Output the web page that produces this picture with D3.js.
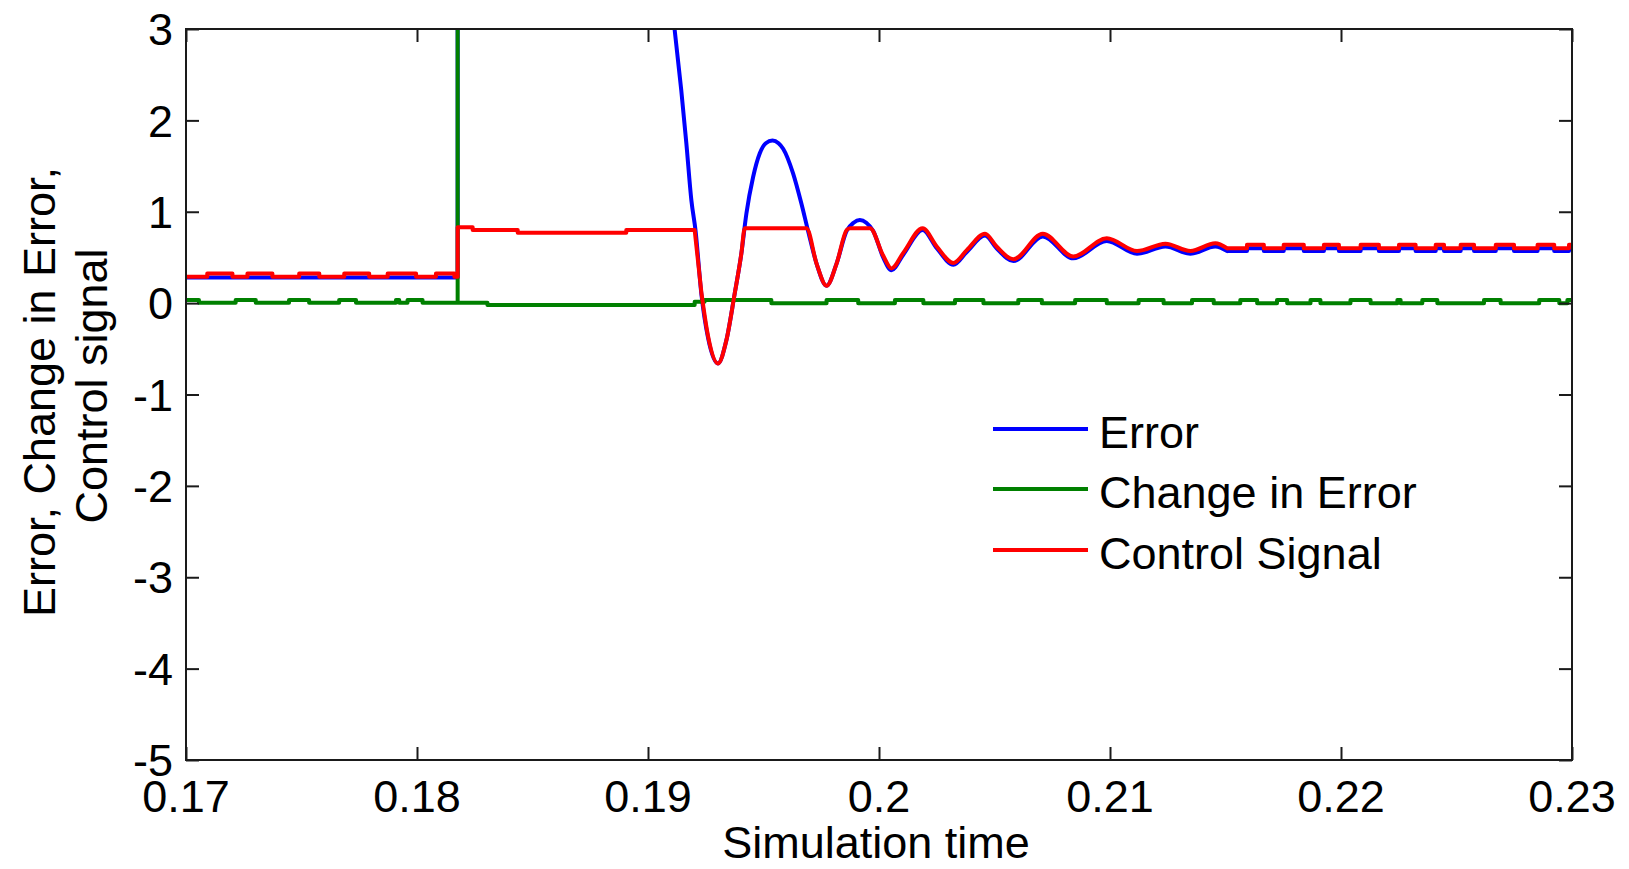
<!DOCTYPE html>
<html>
<head>
<meta charset="utf-8">
<script src="https://cdn.jsdelivr.net/npm/d3@7"></script>
<style>
  html, body { margin: 0; padding: 0; background: #ffffff; }
  svg { display: block; }
  text { font-family: "Liberation Sans", Arial, sans-serif; fill: #000; }
</style>
</head>
<body>
<svg id="chart" width="1629" height="869"></svg>
<script>
// Axis ticks
const xTicks = [0.17, 0.18, 0.19, 0.20, 0.21, 0.22, 0.23];
const xTickLabels = ["0.17", "0.18", "0.19", "0.2", "0.21", "0.22", "0.23"];
const yTicks = [3, 2, 1, 0, -1, -2, -3, -4, -5];
const yTickLabels = ["3", "2", "1", "0", "-1", "-2", "-3", "-4", "-5"];

const seriesNames = ["Error", "Change in Error", "Control Signal"];
const seriesColors = ["#0000ff", "#008000", "#ff0000"];

// Error: [time, value]. "hold" arrays are zero-order-hold samples (value kept until next sample),
// "swing" arrays are the smooth transient between them.
const errorHold1 = [[0.17, 0.28], [0.18176, 0.28]];
const errorSwing = [
  [0.18176, 9.0], [0.1880, 6.5], [0.1905, 4.2], [0.19115, 3.0], [0.19144, 2.33], [0.19166, 1.75],
  [0.19188, 1.12], [0.19206, 0.79], [0.19231, 0.10], [0.1926, -0.38], [0.19303, -0.66],
  [0.19339, -0.41], [0.19375, 0.10], [0.19404, 0.54], [0.19426, 0.98], [0.19455, 1.38],
  [0.19484, 1.64], [0.19510, 1.75], [0.19539, 1.78], [0.19565, 1.75], [0.19585, 1.69],
  [0.19628, 1.42], [0.19664, 1.09], [0.19693, 0.79], [0.19730, 0.43], [0.19773, 0.19],
  [0.19816, 0.43], [0.19860, 0.79], [0.19890, 0.88], [0.19917, 0.91], [0.19945, 0.88],
  [0.19975, 0.79], [0.20018, 0.50], [0.20054, 0.36], [0.20105, 0.53], [0.20189, 0.80],
  [0.2025, 0.60], [0.20322, 0.42], [0.2038, 0.56], [0.20459, 0.74], [0.20509, 0.60],
  [0.20582, 0.46], [0.20709, 0.73], [0.20841, 0.49], [0.20986, 0.68], [0.21117, 0.54],
  [0.2124, 0.62], [0.21348, 0.54], [0.21456, 0.62], [0.21507, 0.57]
];
const errorHold2 = [
  [0.21507, 0.57], [0.21593, 0.60], [0.21666, 0.57], [0.21752, 0.60], [0.21839, 0.57],
  [0.21926, 0.60], [0.21991, 0.57], [0.22085, 0.60], [0.22164, 0.57], [0.22251, 0.60],
  [0.22323, 0.57], [0.2241, 0.60], [0.22446, 0.57], [0.22518, 0.60], [0.22576, 0.57],
  [0.2267, 0.60], [0.22749, 0.57], [0.22851, 0.60], [0.22923, 0.57], [0.22987, 0.60], [0.23, 0.60]
];

// Change in error
const changeHold1 = [
  [0.17, 0.035], [0.17056, 0.005], [0.17215, 0.035], [0.17302, 0.005], [0.17446, 0.035],
  [0.17533, 0.005], [0.17663, 0.035], [0.17736, 0.005], [0.17909, 0.035], [0.17923, 0.005],
  [0.17959, 0.035], [0.18024, 0.005], [0.18176, 0.005]
];
const changeSpike = [[0.18176, 60], [0.18176, 0.005]];
const changeHold2 = [
  [0.18176, 0.005], [0.18305, -0.02], [0.19202, 0.015], [0.19245, 0.035], [0.19534, 0.0],
  [0.19773, 0.035], [0.1991, 0.0], [0.20069, 0.035], [0.20192, 0.0], [0.20329, 0.035],
  [0.20452, 0.0], [0.20603, 0.035], [0.20705, 0.0], [0.20849, 0.035], [0.20986, 0.0],
  [0.21124, 0.035], [0.21232, 0.0], [0.21355, 0.035], [0.21449, 0.0], [0.21564, 0.035],
  [0.21637, 0.0], [0.21723, 0.035], [0.21767, 0.0], [0.21868, 0.035], [0.21911, 0.0],
  [0.22041, 0.035], [0.22128, 0.0], [0.22244, 0.035], [0.22258, 0.0], [0.22352, 0.035],
  [0.22417, 0.0], [0.22619, 0.035], [0.22691, 0.0], [0.22858, 0.035], [0.22945, 0.0],
  [0.2298, 0.035], [0.23, 0.035]
];

// Control signal
const controlHold1 = [
  [0.17, 0.29], [0.17092, 0.325], [0.17201, 0.29], [0.17266, 0.325], [0.17374, 0.29],
  [0.1749, 0.325], [0.17577, 0.29], [0.17685, 0.325], [0.17793, 0.29], [0.17873, 0.325],
  [0.17996, 0.29], [0.18082, 0.325], [0.18162, 0.29], [0.18176, 0.83], [0.18241, 0.80],
  [0.18436, 0.77], [0.18906, 0.80], [0.19202, 0.80]
];
const controlSwing = [
  [0.19231, 0.12], [0.1926, -0.36], [0.19303, -0.66], [0.19339, -0.41], [0.19375, 0.10],
  [0.19404, 0.54], [0.19419, 0.82], [0.19686, 0.82], [0.19730, 0.43], [0.19773, 0.19],
  [0.19816, 0.43], [0.19860, 0.80], [0.19874, 0.82], [0.19961, 0.82], [0.20018, 0.52],
  [0.20054, 0.38], [0.20105, 0.55], [0.20189, 0.82], [0.2025, 0.62], [0.20322, 0.44],
  [0.2038, 0.58], [0.20459, 0.76], [0.20509, 0.62], [0.20582, 0.48], [0.20709, 0.76],
  [0.20841, 0.51], [0.20986, 0.71], [0.21117, 0.57], [0.2124, 0.65], [0.21348, 0.57],
  [0.21456, 0.655], [0.21507, 0.60]
];
const controlHold2 = [
  [0.21507, 0.60], [0.21593, 0.64], [0.21666, 0.60], [0.21752, 0.64], [0.21839, 0.60],
  [0.21926, 0.64], [0.21991, 0.60], [0.22085, 0.64], [0.22164, 0.60], [0.22251, 0.64],
  [0.22323, 0.60], [0.2241, 0.64], [0.22446, 0.60], [0.22518, 0.64], [0.22576, 0.60],
  [0.2267, 0.64], [0.22749, 0.60], [0.22851, 0.64], [0.22923, 0.60], [0.22987, 0.64], [0.23, 0.64]
];

// Expand zero-order-hold samples into corner points
function hold(samples) {
  const out = [];
  samples.forEach((s, i) => {
    out.push(s);
    if (i < samples.length - 1) out.push([samples[i + 1][0], s[1]]);
  });
  return out;
}

// Each series: stepped lead-in, smooth transient, stepped tail
const series = [
  { before: [...hold(errorHold1)], swing: errorSwing, after: hold(errorHold2) },
  { before: [...hold(changeHold1), ...changeSpike], swing: null, after: hold(changeHold2) },
  { before: hold(controlHold1), swing: controlSwing, after: hold(controlHold2) }
];

// Layout
const plot = { left: 186, right: 1572, top: 29, bottom: 760 };
const svg = d3.select("#chart");

const x = d3.scaleLinear().domain([0.17, 0.23]).range([plot.left, plot.right]);
const y = d3.scaleLinear().domain([-5, 3]).range([plot.bottom, plot.top]);

svg.append("defs").append("clipPath").attr("id", "plot-clip")
  .append("rect")
  .attr("x", plot.left).attr("y", plot.top)
  .attr("width", plot.right - plot.left).attr("height", plot.bottom - plot.top);

// Curves
const straight = d3.line().x(d => x(d[0])).y(d => y(d[1])).curve(d3.curveLinear);
const smooth = d3.line().x(d => x(d[0])).y(d => y(d[1])).curve(d3.curveMonotoneX);
const curves = svg.append("g").attr("clip-path", "url(#plot-clip)");

series.forEach((s, i) => {
  let d;
  if (s.swing) {
    d = straight([...s.before, s.swing[0]]) +
        smooth(s.swing) +
        straight([s.swing[s.swing.length - 1], ...s.after]);
  } else {
    d = straight([...s.before, ...s.after]);
  }
  curves.append("path")
    .attr("d", d)
    .attr("fill", "none")
    .attr("stroke", seriesColors[i])
    .attr("stroke-width", 4)
    .attr("stroke-linejoin", "round")
    .attr("stroke-linecap", "round");
});

// Axes: ticks point inwards on all four sides
const tickLen = 13;
const fontSize = 45;
const axisColor = "#1a1a1a";

const bottomAxis = d3.axisBottom(x).tickValues(xTicks).tickSize(-tickLen).tickFormat(() => "");
const topAxis = d3.axisTop(x).tickValues(xTicks).tickSize(-tickLen).tickFormat(() => "");
const leftAxis = d3.axisLeft(y).tickValues(yTicks).tickSize(-tickLen).tickFormat(() => "");
const rightAxis = d3.axisRight(y).tickValues(yTicks).tickSize(-tickLen).tickFormat(() => "");

function styleAxis(g) {
  g.select(".domain").remove();
  g.selectAll(".tick line").attr("stroke", axisColor).attr("stroke-width", 2);
}

svg.append("g").attr("transform", `translate(0,${plot.bottom})`).call(bottomAxis).call(styleAxis);
svg.append("g").attr("transform", `translate(0,${plot.top})`).call(topAxis).call(styleAxis);
svg.append("g").attr("transform", `translate(${plot.left},0)`).call(leftAxis).call(styleAxis);
svg.append("g").attr("transform", `translate(${plot.right},0)`).call(rightAxis).call(styleAxis);

// Frame
svg.append("rect")
  .attr("x", plot.left).attr("y", plot.top)
  .attr("width", plot.right - plot.left).attr("height", plot.bottom - plot.top)
  .attr("fill", "none").attr("stroke", axisColor).attr("stroke-width", 2);

// Tick labels
svg.append("g").selectAll("text").data(xTicks).join("text")
  .attr("x", d => x(d)).attr("y", 812)
  .attr("text-anchor", "middle").attr("font-size", fontSize)
  .text((d, i) => xTickLabels[i]);

svg.append("g").selectAll("text").data(yTicks).join("text")
  .attr("x", 173).attr("y", d => y(d)).attr("dy", "0.36em")
  .attr("text-anchor", "end").attr("font-size", fontSize)
  .text((d, i) => yTickLabels[i]);

// Axis titles
svg.append("text")
  .attr("x", 876).attr("y", 858)
  .attr("text-anchor", "middle").attr("font-size", fontSize)
  .text("Simulation time");

svg.append("text")
  .attr("transform", "translate(55,392) rotate(-90)")
  .attr("text-anchor", "middle").attr("font-size", fontSize)
  .text("Error, Change in Error,");
svg.append("text")
  .attr("transform", "translate(107,386) rotate(-90)")
  .attr("text-anchor", "middle").attr("font-size", fontSize)
  .text("Control signal");

// Legend (no box)
const legendRows = [429, 489, 550];
const legend = svg.append("g");
seriesNames.forEach((name, i) => {
  legend.append("line")
    .attr("x1", 993).attr("x2", 1088)
    .attr("y1", legendRows[i]).attr("y2", legendRows[i])
    .attr("stroke", seriesColors[i]).attr("stroke-width", 4);
  legend.append("text")
    .attr("x", 1099).attr("y", legendRows[i] + 19)
    .attr("font-size", fontSize)
    .text(name);
});
</script>
</body>
</html>
